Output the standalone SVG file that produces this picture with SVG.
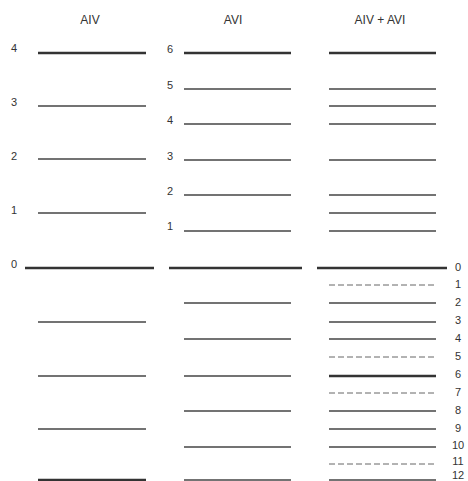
<svg xmlns="http://www.w3.org/2000/svg" width="468" height="481" viewBox="0 0 468 481">
<style>
.t{font-family:"Liberation Sans",Arial,sans-serif;font-size:12px;fill:#333;text-anchor:middle}
.n{font-family:"Liberation Sans",Arial,sans-serif;font-size:11px;fill:#333;text-anchor:middle}
line{stroke:#444;stroke-width:1.3}
.k{stroke:#333;stroke-width:2.4}
.d{stroke:#666;stroke-width:1;stroke-dasharray:6 3}
</style>
<rect width="468" height="481" fill="#fff"/>
<g id="titles">
<text class="t" x="90" y="24">AIV</text>
<text class="t" x="233" y="24">AVI</text>
<text class="t" x="380" y="24">AIV + AVI</text>
</g>
<g id="col-AIV">
<line class="k" x1="38" y1="53" x2="146" y2="53"/>
<line x1="38" y1="106" x2="146" y2="106"/>
<line x1="38" y1="159" x2="146" y2="159"/>
<line x1="38" y1="213" x2="146" y2="213"/>
<line class="k" x1="25" y1="268" x2="154" y2="268"/>
<line x1="38" y1="322" x2="146" y2="322"/>
<line x1="38" y1="376" x2="146" y2="376"/>
<line x1="38" y1="429" x2="146" y2="429"/>
<line class="k" x1="38" y1="480" x2="146" y2="480"/>
<text class="n" x="14" y="52">4</text>
<text class="n" x="14" y="106">3</text>
<text class="n" x="14" y="160">2</text>
<text class="n" x="14" y="214">1</text>
<text class="n" x="14" y="268">0</text>
</g>
<g id="col-AVI">
<line class="k" x1="184" y1="53" x2="291" y2="53"/>
<line x1="184" y1="89" x2="291" y2="89"/>
<line x1="184" y1="124" x2="291" y2="124"/>
<line x1="184" y1="160" x2="291" y2="160"/>
<line x1="184" y1="195" x2="291" y2="195"/>
<line x1="184" y1="231" x2="291" y2="231"/>
<line class="k" x1="169" y1="268" x2="302" y2="268"/>
<line x1="184" y1="303" x2="291" y2="303"/>
<line x1="184" y1="339" x2="291" y2="339"/>
<line x1="184" y1="376" x2="291" y2="376"/>
<line x1="184" y1="411" x2="291" y2="411"/>
<line x1="184" y1="447" x2="291" y2="447"/>
<line x1="184" y1="480" x2="291" y2="480"/>
<text class="n" x="170" y="53">6</text>
<text class="n" x="170" y="89">5</text>
<text class="n" x="170" y="124">4</text>
<text class="n" x="170" y="160">3</text>
<text class="n" x="170" y="195">2</text>
<text class="n" x="170" y="230">1</text>
</g>
<g id="col-sum">
<line class="k" x1="329" y1="53" x2="436" y2="53"/>
<line x1="329" y1="89" x2="436" y2="89"/>
<line x1="329" y1="106" x2="436" y2="106"/>
<line x1="329" y1="124" x2="436" y2="124"/>
<line x1="329" y1="160" x2="436" y2="160"/>
<line x1="329" y1="195" x2="436" y2="195"/>
<line x1="329" y1="213" x2="436" y2="213"/>
<line x1="329" y1="231" x2="436" y2="231"/>
<line class="k" x1="317" y1="268" x2="447" y2="268"/>
<line class="d" x1="329" y1="285" x2="436" y2="285"/>
<line x1="329" y1="303" x2="436" y2="303"/>
<line x1="329" y1="322" x2="436" y2="322"/>
<line x1="329" y1="339" x2="436" y2="339"/>
<line class="d" x1="329" y1="357" x2="436" y2="357"/>
<line class="k" x1="329" y1="376" x2="436" y2="376"/>
<line class="d" x1="329" y1="393" x2="436" y2="393"/>
<line x1="329" y1="411" x2="436" y2="411"/>
<line x1="329" y1="429" x2="436" y2="429"/>
<line x1="329" y1="447" x2="436" y2="447"/>
<line class="d" x1="329" y1="464" x2="436" y2="464"/>
<line x1="329" y1="480" x2="436" y2="480"/>
<text class="n" x="458" y="271">0</text>
<text class="n" x="458" y="288">1</text>
<text class="n" x="458" y="306">2</text>
<text class="n" x="458" y="324">3</text>
<text class="n" x="458" y="342">4</text>
<text class="n" x="458" y="360">5</text>
<text class="n" x="458" y="378">6</text>
<text class="n" x="458" y="396">7</text>
<text class="n" x="458" y="414">8</text>
<text class="n" x="458" y="432">9</text>
<text class="n" x="458" y="449">10</text>
<text class="n" x="458" y="465">11</text>
<text class="n" x="458" y="479">12</text>
</g>
</svg>
